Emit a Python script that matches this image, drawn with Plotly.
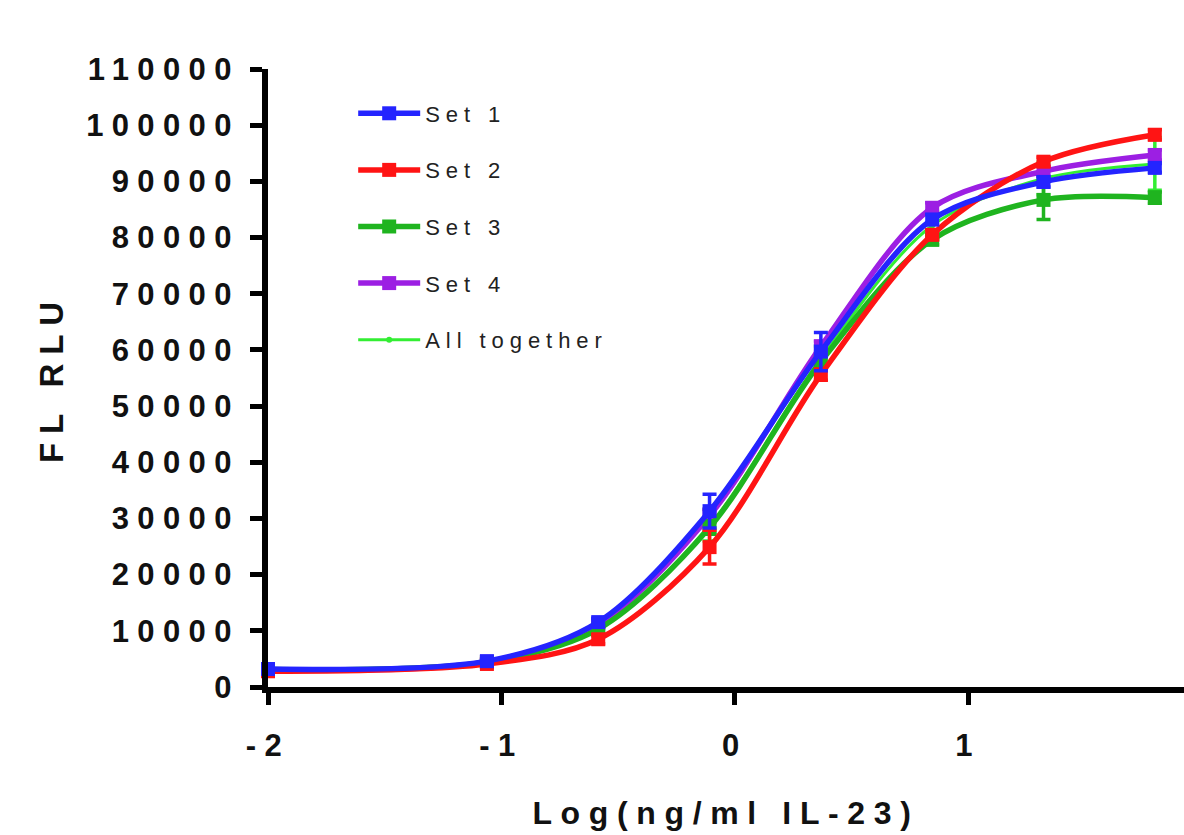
import plotly.graph_objects as go

# ---- data ----
log_conc = [-2.0, -1.062, -0.585, -0.108, 0.369, 0.846, 1.323, 1.8]
series_names = ["Set 1", "Set 2", "Set 3", "Set 4", "All together"]
set1 = [3200, 4600, 11550, 31300, 59700, 83200, 89900, 92400]
set2 = [2800, 4100, 8500, 24900, 55600, 80500, 93500, 98300]
set3 = [3100, 4400, 10300, 28400, 57900, 79600, 86700, 87100]
set4 = [3000, 4500, 11200, 30500, 60600, 85300, 91800, 94700]
all_together = [3000, 4400, 10400, 28800, 58500, 82150, 90500, 93100]
set1_err = [300, 300, 700, 3000, 3400, 900, 900, 800]
set2_err = [300, 300, 800, 3000, 1000, 900, 800, 900]
set3_err = [300, 300, 700, 1200, 1000, 900, 3500, 1000]
set4_err = [300, 300, 700, 1200, 1000, 900, 900, 900]
all_err = [200, 250, 1300, 2800, 2200, 2500, 2900, 4700]
y_ticks = list(range(0, 110001, 10000))
x_ticks = [-2, -1, 0, 1]
x_ticktext = ["-2", "-1", "0", "1"]

colors = {"Set 1": "#2424ff", "Set 2": "#ff1414", "Set 3": "#1fb41f",
          "Set 4": "#9c1fe3", "All together": "#33ee33"}

values = {"Set 1": (set1, set1_err), "Set 2": (set2, set2_err),
          "Set 3": (set3, set3_err), "Set 4": (set4, set4_err),
          "All together": (all_together, all_err)}

fig = go.Figure()
# draw order: All together at the bottom, Set 1 on top
for name in ["All together", "Set 4", "Set 3", "Set 2", "Set 1"]:
    y, e = values[name]
    is_all = name == "All together"
    fig.add_trace(go.Scatter(
        x=log_conc, y=y, name=name, legendgroup=name,
        legendrank=series_names.index(name) + 1,
        mode="lines+markers",
        line=dict(color=colors[name], width=3 if is_all else 5.5,
                  shape="spline", smoothing=0.9),
        marker=dict(symbol="circle" if is_all else "square",
                    size=6 if is_all else 14, color=colors[name]),
        error_y=dict(type="data", array=e, visible=True, color=colors[name],
                     thickness=3.5, width=7),
        cliponaxis=False,
    ))

font_family = "Arial, 'Liberation Sans', sans-serif"

fig.update_layout(
    width=1184, height=835,
    margin=dict(l=268, r=0, t=69, b=148),
    plot_bgcolor="white", paper_bgcolor="white",
    font=dict(family=font_family, color="#111"),
    showlegend=True,
    legend=dict(x=0.093, y=0.962, xanchor="left", yanchor="top",
                traceorder="grouped", tracegroupgap=25,
                itemwidth=62,
                font=dict(size=22, color="#222", family=font_family),
                bgcolor="rgba(0,0,0,0)"),
    xaxis=dict(range=[-2, 1.925], tickvals=x_ticks, ticktext=x_ticktext,
               showgrid=False, zeroline=False,
               showline=True, linewidth=6, linecolor="black",
               ticks="outside", ticklen=12, tickwidth=5, tickcolor="black",
               ticklabelstandoff=14,
               tickfont=dict(size=31, weight="bold", color="#111"),
               title=dict(text="Log(ng/ml IL-23)", standoff=41,
                          font=dict(size=32, weight="bold", color="#111"))),
    yaxis=dict(range=[0, 110000], tickvals=y_ticks, tickformat="d",
               showgrid=False, zeroline=False,
               showline=True, linewidth=6, linecolor="black",
               ticks="outside", ticklen=12, tickwidth=5, tickcolor="black",
               ticklabelstandoff=4,
               tickfont=dict(size=31, weight="bold", color="#111"),
               title=dict(text="FL RLU", standoff=65,
                          font=dict(size=33, weight="bold", color="#111"))),
)

post = ("var s=document.createElement('style');"
        "s.innerHTML='body{margin:0;} .main-svg text{letter-spacing:0.27em;}"
        " .legend *{clip-path:none !important;}';"
        "document.head.appendChild(s);")

fig.write_html("out.html", post_script=post,
               config={"displayModeBar": False})
